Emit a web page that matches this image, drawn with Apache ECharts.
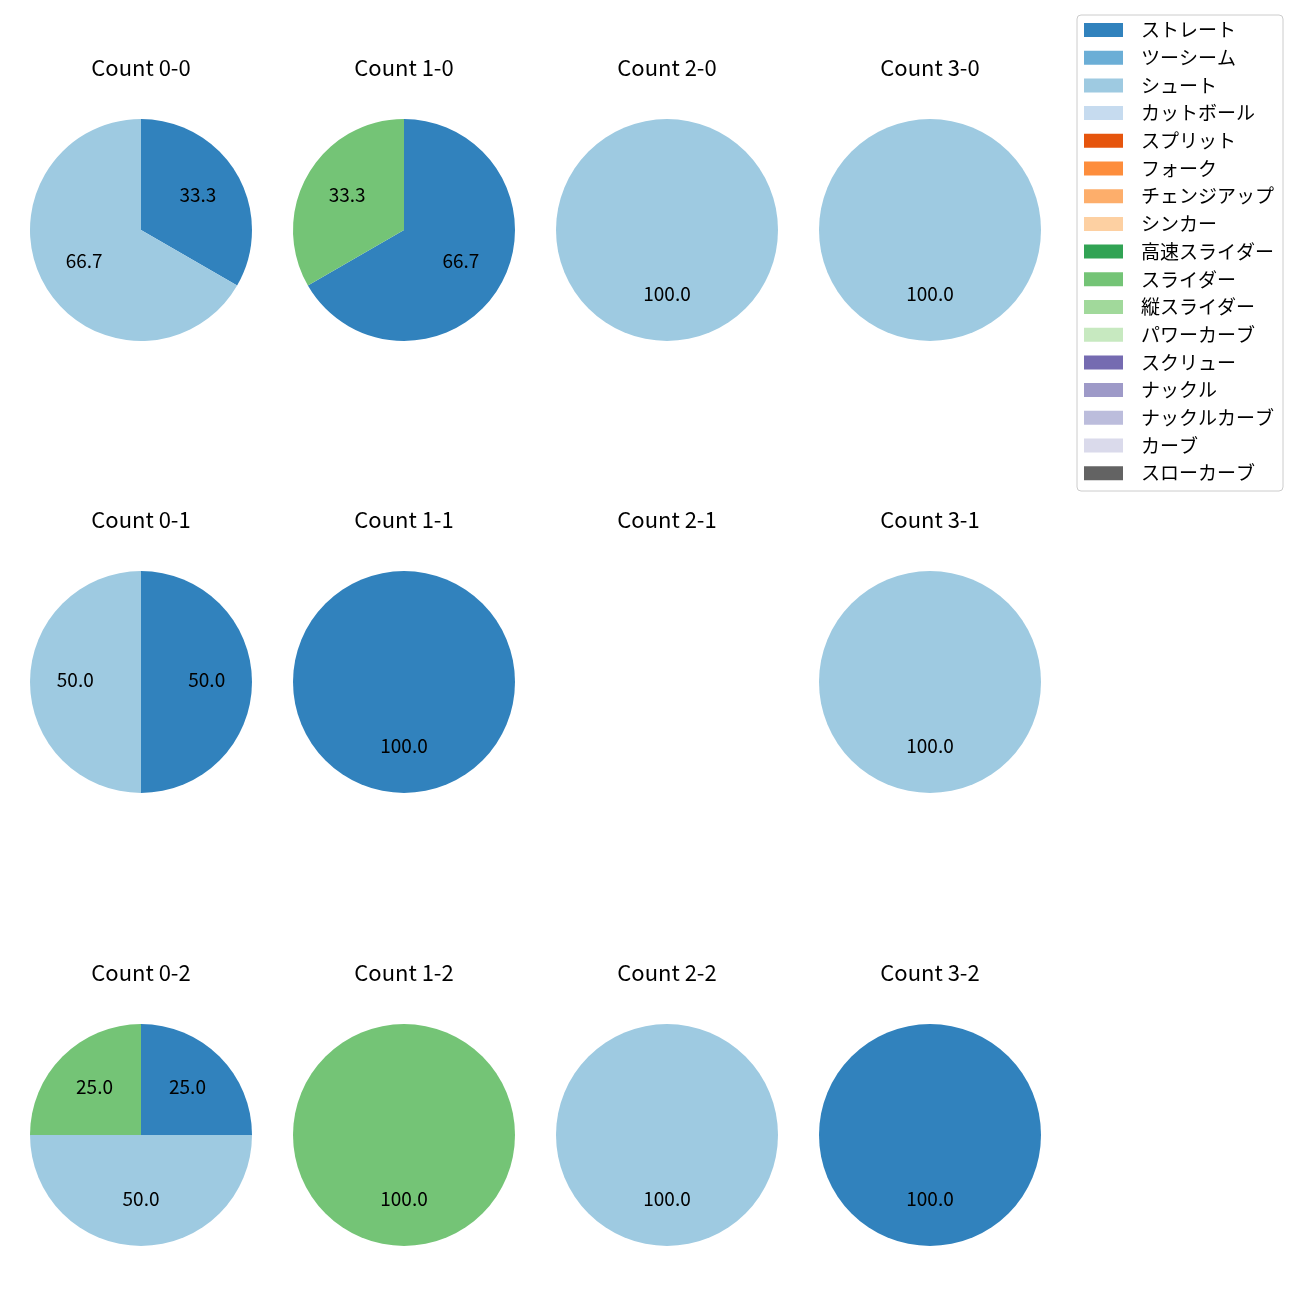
<!DOCTYPE html>
<html><head><meta charset="utf-8">
<script src="https://cdn.jsdelivr.net/npm/echarts@6/dist/echarts.min.js"></script>
<style>html,body{margin:0;padding:0;background:#fff}#c{width:1300px;height:1300px}</style>
</head><body><div id="c"></div>
<script>
const categories = ["ストレート","ツーシーム","シュート","カットボール","スプリット","フォーク","チェンジアップ","シンカー","高速スライダー","スライダー","縦スライダー","パワーカーブ","スクリュー","ナックル","ナックルカーブ","カーブ","スローカーブ"];
const colors = ["#3182bd","#6baed6","#9ecae1","#c6dbef","#e6550d","#fd8d3c","#fdae6b","#fdd0a2","#31a354","#74c476","#a1d99b","#c7e9c0","#756bb1","#9e9ac8","#bcbddc","#dadaeb","#636363"];
const titles = ["Count 0-0","Count 1-0","Count 2-0","Count 3-0","Count 0-1","Count 1-1","Count 2-1","Count 3-1","Count 0-2","Count 1-2","Count 2-2","Count 3-2"];
// pitch counts per panel: [category, count]
const pitches00 = [["ストレート",1],["シュート",2]];
const pitches10 = [["ストレート",2],["スライダー",1]];
const pitches20 = [["シュート",1]];
const pitches30 = [["シュート",1]];
const pitches01 = [["ストレート",1],["シュート",1]];
const pitches11 = [["ストレート",1]];
const pitches21 = [];
const pitches31 = [["シュート",1]];
const pitches02 = [["ストレート",1],["シュート",2],["スライダー",1]];
const pitches12 = [["スライダー",1]];
const pitches22 = [["シュート",1]];
const pitches32 = [["ストレート",1]];
const panels = [pitches00,pitches10,pitches20,pitches30,pitches01,pitches11,pitches21,pitches31,pitches02,pitches12,pitches22,pitches32];

const FONT = "Noto Sans CJK JP";
const colX = [141,404,667,930];
const rowY = [230,682,1135];
const R = 111;
const colorOf = n => colors[categories.indexOf(n)];

const series = [];
// legend color provider (off-screen)
series.push({type:'pie', center:[-500,-500], radius:1, silent:true, label:{show:false},
  data: categories.map((n)=>({name:n, value:1, itemStyle:{color:colorOf(n)}}))});
const title = [];
panels.forEach((p,i)=>{
  const cx = colX[i%4], cy = rowY[Math.floor(i/4)];
  title.push({text:titles[i], left:cx, top:cy-R-62, textAlign:'center', padding:0,
    textStyle:{fontFamily:FONT, fontSize:22, fontWeight:'normal', color:'#000'}});
  if (!p.length) return;
  series.push({type:'pie', center:[cx,cy], radius:[0,R], startAngle:90, clockwise:true,
    silent:true, label:{show:false}, labelLine:{show:false},
    itemStyle:{borderWidth:0},
    data: p.map(d=>({name:d[0], value:d[1], itemStyle:{color:colorOf(d[0])}}))});
  series.push({type:'pie', center:[cx,cy], radius:[R*0.13,R], startAngle:90, clockwise:true,
    silent:true, labelLine:{show:false},
    itemStyle:{color:'rgba(0,0,0,0)', borderWidth:0},
    label:{show:true, position:'inside', fontFamily:FONT, fontSize:19, color:'#000', offset:[0,-2],
      formatter: prm => prm.percent.toFixed(1)},
    data: p.map(d=>({name:d[0], value:d[1], itemStyle:{color:'rgba(0,0,0,0)'}}))});
});

const chart = echarts.init(document.getElementById('c'));
chart.setOption({
  animation:false,
  title: title,
  legend:{orient:'vertical', left:1077, top:15, data:categories, icon:'rect',
    itemWidth:39, itemHeight:14, itemGap:8.7, selectedMode:false,
    padding:[5.5,9,8.3,7], borderColor:'#cccccc', borderWidth:1, borderRadius:4,
    textStyle:{fontFamily:FONT, fontSize:19, color:'#000', padding:[0,0,0,13]}},
  series: series
});
</script></body></html>
